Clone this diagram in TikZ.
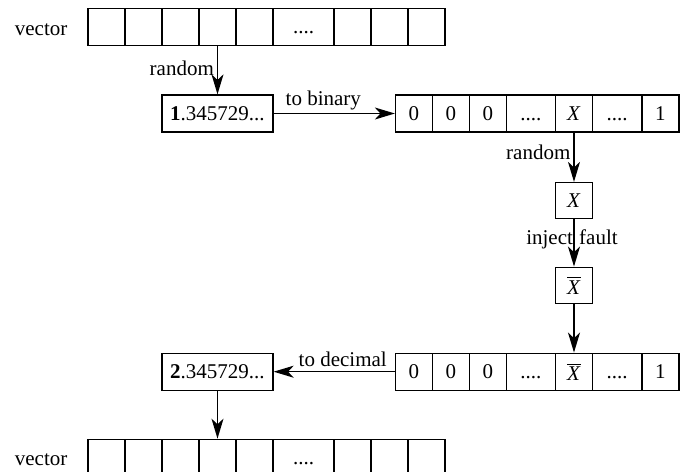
\documentclass[tikz,border=0pt]{standalone}
\usepackage{fontspec}
\setmainfont{Liberation Serif}
\usetikzlibrary{arrows.meta}
\begin{document}
\begin{tikzpicture}[x=0.5pt,y=-0.5pt,
  font=\fontsize{10.5}{12}\selectfont,
  line width=0.65pt,
  cell/.style={draw, rectangle, inner sep=0pt, minimum height=18.5pt, minimum width=18.5pt},
  bcell/.style={cell, minimum width=24.5pt},
  numbox/.style={draw, rectangle, inner sep=0pt, minimum width=55.5pt, minimum height=18.5pt},
  arr/.style={-{Stealth[length=10pt,width=6pt,inset=2.8pt]}},
  lbl/.style={inner sep=1.5pt}]
\useasboundingbox (0,0) rectangle (693,472);
% top vector
\node[anchor=base east, inner sep=0pt] (vtop) at (68,35) {vector};
\node[cell] (t1) at (106.5,27) {};
\node[cell] (t2) at (143.5,27) {};
\node[cell] (t3) at (180.5,27) {};
\node[cell] (t4) at (217.5,27) {};
\node[cell] (t5) at (254.5,27) {};
\node[cell, minimum width=30.5pt] (t6) at (303.5,27) {\vphantom{0}....};
\node[cell] (t7) at (352.5,27) {};
\node[cell] (t8) at (389.5,27) {};
\node[cell] (t9) at (426.5,27) {};
% first number
\node[numbox] (n1) at (217.5,113.5) {\textbf{1}.345729...};
% binary vector
\node[cell] (b1) at (414,113.5) {0};
\node[cell] (b2) at (451,113.5) {0};
\node[cell] (b3) at (488,113.5) {0};
\node[bcell] (b4) at (531,113.5) {\vphantom{0}....};
\node[cell] (b5) at (574,113.5) {\textit{X}};
\node[bcell, minimum width=24.75pt] (b6) at (617.25,113.5) {\vphantom{0}....};
\node[cell] (b7) at (660.5,113.5) {1};
% bit boxes
\node[cell, minimum height=18pt] (x) at (574,200.5) {\textit{X}};
\node[cell, minimum height=18pt] (xb) at (574,285.2) {$\overline{\mbox{\textit{X}}}$};
% flipped binary vector
\node[cell] (c1) at (414,371.7) {0};
\node[cell] (c2) at (451,371.7) {0};
\node[cell] (c3) at (488,371.7) {0};
\node[bcell] (c4) at (531,371.7) {\vphantom{0}....};
\node[cell] (c5) at (574,371.7) {$\overline{\mbox{\textit{X}}}$};
\node[bcell, minimum width=24.75pt] (c6) at (617.25,371.7) {\vphantom{0}....};
\node[cell] (c7) at (660.5,371.7) {1};
% second number
\node[numbox] (n2) at (217.5,371.7) {\textbf{2}.345729...};
% bottom vector
\node[anchor=base east, inner sep=0pt] (vbot) at (68,465) {vector};
\node[cell] (u1) at (106.5,457.8) {};
\node[cell] (u2) at (143.5,457.8) {};
\node[cell] (u3) at (180.5,457.8) {};
\node[cell] (u4) at (217.5,457.8) {};
\node[cell] (u5) at (254.5,457.8) {};
\node[cell, minimum width=30.5pt] (u6) at (303.5,457.8) {\vphantom{0}....};
\node[cell] (u7) at (352.5,457.8) {};
\node[cell] (u8) at (389.5,457.8) {};
\node[cell] (u9) at (426.5,457.8) {};
% connectors
\draw[arr] (t4.south) -- node[lbl, left, pos=0.46] {random} (n1.north);
\draw[arr] (n1.east) -- node[lbl, above, pos=0.41] {to binary} (b1.west);
\draw[arr] (b5.south) -- node[lbl, left, pos=0.39] {random} (x.north);
\draw[arr] (x.south) -- node[inner sep=0pt, pos=0.42, xshift=-1pt] {inject\hspace{0.3em}fault} (xb.north);
\draw[arr] (xb.south) -- (c5.north);
\draw[arr] (c1.west) -- node[lbl, above, pos=0.43, inner sep=2pt] {to decimal} (n2.east);
\draw[arr] (n2.south) -- (u4.north);
\end{tikzpicture}
\end{document}
